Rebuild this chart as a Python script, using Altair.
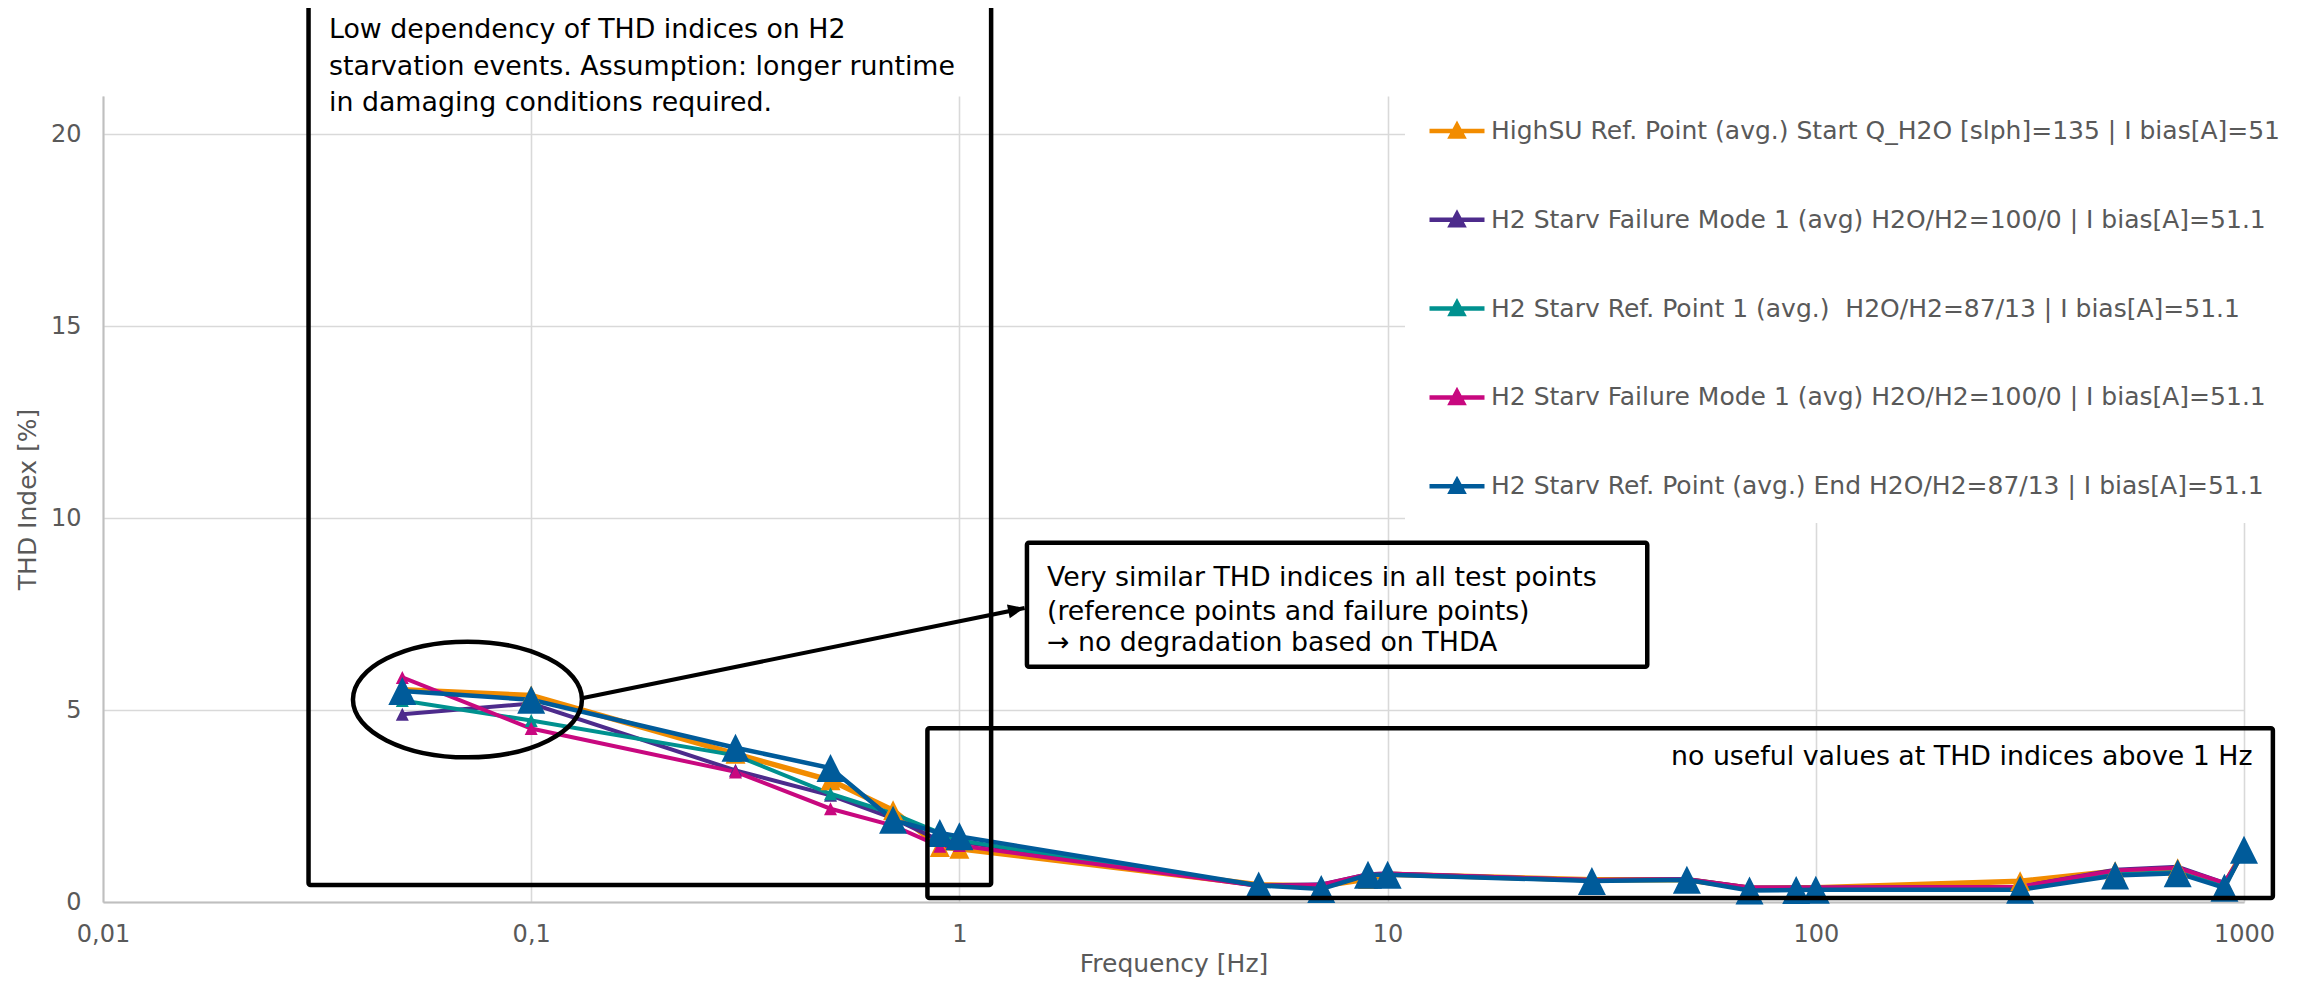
import altair as alt
import pandas as pd

# ---------------- data ----------------
freq = [0.05, 0.1, 0.3, 0.5, 0.7, 0.9, 1, 5, 7, 9, 10, 30, 50, 70, 90, 100, 300, 500, 700, 900, 1000]

highsu_start = [5.53, 5.38, 3.86, 3.17, 2.39, 1.43, 1.39, 0.45, 0.42, 0.60, 0.72, 0.58, 0.58, 0.36, 0.37, 0.37, 0.54, 0.80, 0.88, 0.45, 1.35]
failure_a    = [4.89, 5.17, 3.43, 2.78, 2.18, 1.60, 1.57, 0.43, 0.46, 0.72, 0.74, 0.57, 0.60, 0.38, 0.38, 0.38, 0.40, 0.84, 0.92, 0.50, 1.32]
ref_point_1  = [5.25, 4.73, 3.82, 2.82, 2.30, 1.80, 1.60, 0.42, 0.40, 0.70, 0.72, 0.56, 0.57, 0.34, 0.34, 0.35, 0.35, 0.72, 0.78, 0.40, 1.35]
failure_b    = [5.85, 4.52, 3.39, 2.43, 1.99, 1.45, 1.47, 0.42, 0.45, 0.72, 0.74, 0.57, 0.59, 0.38, 0.38, 0.38, 0.40, 0.82, 0.89, 0.50, 1.30]
ref_end      = [5.50, 5.27, 4.02, 3.49, 2.14, 1.80, 1.71, 0.43, 0.34, 0.71, 0.71, 0.55, 0.58, 0.30, 0.31, 0.32, 0.32, 0.69, 0.75, 0.37, 1.36]

series_keys = ["s1", "s2", "s3", "s4", "s5"]
series_labels = [
    "HighSU Ref. Point (avg.) Start Q_H2O [slph]=135 | I bias[A]=51",
    "H2 Starv Failure Mode 1 (avg) H2O/H2=100/0 | I bias[A]=51.1",
    "H2 Starv Ref. Point 1 (avg.)\u00a0 H2O/H2=87/13 | I bias[A]=51.1",
    "H2 Starv Failure Mode 1 (avg) H2O/H2=100/0 | I bias[A]=51.1",
    "H2 Starv Ref. Point (avg.) End H2O/H2=87/13 | I bias[A]=51.1",
]
series_values = [highsu_start, failure_a, ref_point_1, failure_b, ref_end]
series_colors = ["#f28c00", "#4d2b8c", "#00918f", "#c8087f", "#005b9a"]
line_widths = [5.5, 4, 4, 4, 4.5]
marker_sizes = [400, 169, 169, 169, 784]

x_ticks = [0.01, 0.1, 1, 10, 100, 1000]
y_ticks = [0, 5, 10, 15, 20]

# annotations (data coordinates)
note1_lines = ["Low dependency of THD indices on H2",
               "starvation events. Assumption: longer runtime",
               "in damaging conditions required."]
note1_x = [0.03371, 0.03371, 0.03371]
note1_y = [22.72, 21.76, 20.81]

note2_lines = ["Very similar THD indices in all test points",
               "(reference points and failure points)",
               "\u2192 no degradation based on THDA"]
note2_x = [1.6014, 1.6014, 1.6014]
note2_y = [8.434, 7.564, 6.740]

note3_lines = ["no useful values at THD indices above 1 Hz"]
note3_x = [1047]
note3_y = [3.786]

box_x1 = [0.0302, 1.438, 0.842]
box_x2 = [1.186, 40.4, 1168]
box_y1 = [0.44, 6.13, 0.104]
box_y2 = [23.35, 9.36, 4.526]

ellipse_x = [0.07098]
ellipse_y = [5.276]

arrow_x1 = [0.1313]
arrow_y1 = [5.307]
arrow_x2 = [1.4199]
arrow_y2 = [7.66]

# ---------------- tables ----------------
rows = []
for key, vals, lw, ms in zip(series_keys, series_values, line_widths, marker_sizes):
    for f, v in zip(freq, vals):
        rows.append({"freq": f, "value": v, "series": key, "lw": lw, "ms": ms})
df = pd.DataFrame(rows)

boxes = pd.DataFrame({"x1": box_x1, "x2": box_x2, "y1": box_y1, "y2": box_y2})
ell = pd.DataFrame({"x": ellipse_x, "y": ellipse_y})
arrow = pd.DataFrame({"x1": arrow_x1, "y1": arrow_y1, "x2": arrow_x2, "y2": arrow_y2})
t1 = pd.DataFrame({"x": note1_x, "y": note1_y, "t": note1_lines})
t2 = pd.DataFrame({"x": note2_x, "y": note2_y, "t": note2_lines})
t3 = pd.DataFrame({"x": note3_x, "y": note3_y, "t": note3_lines})

FONT = "DejaVu Sans"
GREY = "#595959"

xscale = alt.Scale(type="log", domain=[0.01, 1000], nice=False)
yscale = alt.Scale(domain=[0, 21], nice=False, zero=False)
cscale = alt.Scale(domain=series_keys, range=series_colors)

label_expr = " : ".join(
    f"datum.label == '{k}' ? '{l}'" for k, l in zip(series_keys, series_labels)
) + " : datum.label"

x_axis = alt.Axis(values=x_ticks, labelExpr="replace(format(datum.value, '~g'), '.', ',')",
                  title="Frequency [Hz]", grid=True, ticks=False, labelFlush=False,
                  labelPadding=20, titlePadding=5)
y_axis = alt.Axis(values=y_ticks, title="THD Index [%]", grid=True, ticks=False,
                  labelPadding=22, titlePadding=10)

TRI = "M0,-1L1,1L-1,1Z"
# legend symbol: a horizontal line with a small (stroked, therefore solid) triangle
LEG = ("M-1,0L1,0 M0,-0.21L0.22,0.2L-0.22,0.2Z M0,-0.08L0.09,0.12L-0.09,0.12Z "
       "M0,-0.21L0,0.2")
ELL = "M-1,0A1,0.505,0,1,1,1,0A1,0.505,0,1,1,-1,0Z"
HEAD = "M0,0L-1,-0.42L-1,0.42Z"

legend = alt.Legend(
    title=None, orient="none", legendX=1302, legendY=-17, direction="vertical",
    fillColor="white", padding=22, symbolType=LEG, symbolSize=3025,
    symbolStrokeWidth=4.5, rowPadding=43.8, labelFontSize=25, labelFont=FONT,
    labelColor=GREY, labelLimit=1200, labelOffset=4, labelExpr=label_expr, zindex=1)

lines = alt.Chart(df).mark_line().encode(
    x=alt.X("freq:Q", scale=xscale, axis=x_axis),
    y=alt.Y("value:Q", scale=yscale, axis=y_axis),
    color=alt.Color("series:N", scale=cscale, legend=legend),
    strokeWidth=alt.StrokeWidth("lw:Q", scale=None, legend=None),
)

points = alt.Chart(df).mark_point(filled=True, opacity=1, shape=TRI).encode(
    x=alt.X("freq:Q", scale=xscale),
    y=alt.Y("value:Q", scale=yscale),
    fill=alt.Fill("series:N", scale=cscale, legend=None),
    size=alt.Size("ms:Q", scale=None, legend=None),
)

rects = alt.Chart(boxes).mark_rect(filled=False, color="black", strokeWidth=4.5, cornerRadius=2).encode(
    x=alt.X("x1:Q", scale=xscale), x2="x2:Q",
    y=alt.Y("y1:Q", scale=yscale), y2="y2:Q",
)

ellipse = alt.Chart(ell).mark_point(shape=ELL, size=52441, filled=False, color="black",
                                    strokeWidth=4.5, opacity=1).encode(
    x=alt.X("x:Q", scale=xscale), y=alt.Y("y:Q", scale=yscale))

arrow_line = alt.Chart(arrow).mark_rule(color="black", strokeWidth=4).encode(
    x=alt.X("x1:Q", scale=xscale), y=alt.Y("y1:Q", scale=yscale), x2="x2:Q", y2="y2:Q")

arrow_head = alt.Chart(arrow).mark_point(shape=HEAD, size=1100, filled=True, color="black",
                                         opacity=1, angle=348.5).encode(
    x=alt.X("x2:Q", scale=xscale), y=alt.Y("y2:Q", scale=yscale))

def text_layer(d, align):
    return alt.Chart(d).mark_text(align=align, baseline="middle", font=FONT, fontSize=26.8,
                                  color="black").encode(
        x=alt.X("x:Q", scale=xscale), y=alt.Y("y:Q", scale=yscale), text="t:N")

chart = alt.layer(
    lines, points, rects, ellipse, arrow_line, arrow_head,
    text_layer(t1, "left"), text_layer(t2, "left"), text_layer(t3, "right"),
).properties(
    width=2141, height=806,
    autosize=alt.AutoSizeParams(type="none"),
    padding={"left": 95, "top": 88, "right": 48, "bottom": 78},
    background="white",
).configure_view(stroke=None).configure_axis(
    labelFont=FONT, titleFont=FONT, labelFontSize=24, titleFontSize=25,
    labelColor=GREY, titleColor=GREY, titleFontWeight="normal",
    gridColor="#d9d9d9", gridWidth=1.6, domainColor="#bfbfbf", domainWidth=2,
)

chart.save("out.html", embed_options={"renderer": "svg", "actions": False})
